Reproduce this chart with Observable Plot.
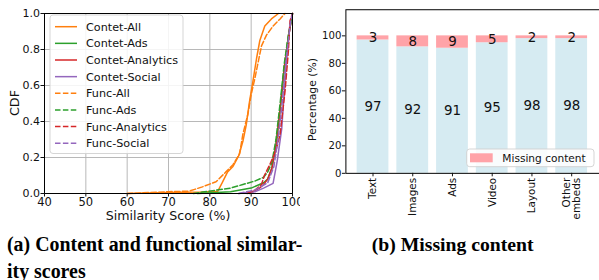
<!DOCTYPE html>
<html>
<head>
<meta charset="utf-8">
<script src="https://cdn.jsdelivr.net/npm/d3@7"></script>
<script src="https://cdn.jsdelivr.net/npm/@observablehq/plot@0.6"></script>
<style>
  html, body { margin: 0; padding: 0; background: #fff; }
  #wrap { position: relative; width: 599px; height: 280px; overflow: hidden; background: #fff; }
  #left, #right, #overlay { position: absolute; top: 0; }
  #left { left: 0; }
  #right { left: 300px; }
  #overlay { left: 0; pointer-events: none; }
  svg { display: block; }
</style>
</head>
<body>
<div id="wrap">
  <div id="left"></div>
  <div id="right"></div>
  <svg id="overlay" width="599" height="280"></svg>
</div>
<script>
// ---------- Data: (a) CDF of similarity scores ----------
const seriesNames = ["Contet-All", "Contet-Ads", "Contet-Analytics", "Contet-Social",
                     "Func-All", "Func-Ads", "Func-Analytics", "Func-Social"];
const seriesColors = ["#ff7f0e", "#2ca02c", "#d62728", "#9467bd",
                      "#ff7f0e", "#2ca02c", "#d62728", "#9467bd"];
const xTicksA = [40, 50, 60, 70, 80, 90, 100];
const yTicksA = [0, 0.2, 0.4, 0.6, 0.8, 1.0];

const contetAll = [[60,0],[70,0.006],[78,0.008],[81.9,0.012],[83,0.06],[84.3,0.12],[85.6,0.15],[87,0.21],
  [88,0.29],[88.8,0.38],[89.6,0.51],[90.4,0.62],[91.3,0.75],[92.1,0.85],[93.3,0.93],[94.9,0.97],[96.6,1.0]];
const contetAds = [[77,0],[85,0.01],[90,0.03],[93,0.06],[94,0.08],[95,0.14],[96,0.26],[97,0.46],
  [98,0.69],[99,0.87],[100,1.0]];
const contetAnalytics = [[89.5,0],[90.5,0.01],[92,0.03],[93,0.05],[94,0.08],[95,0.14],[96,0.27],
  [97,0.47],[98,0.7],[99,0.87],[100,1.0]];
const contetSocial = [[87,0],[90.9,0.01],[93,0.03],[95.3,0.056],[96.3,0.18],[97.4,0.36],[98.4,0.7],
  [99.3,0.92],[100,1.0]];
const funcAll = [[60,0],[70,0.01],[75,0.013],[78.2,0.037],[81.5,0.065],[83.9,0.12],[85.6,0.16],
  [87.2,0.22],[88,0.33],[89.2,0.44],[90,0.55],[90.9,0.64],[91.7,0.73],[92.5,0.82],[93.7,0.88],
  [95.3,0.93],[97,0.97],[98.2,1.0]];
const funcAds = [[76,0],[85,0.03],[88,0.05],[91,0.07],[93,0.09],[94,0.12],[95,0.17],[96,0.3],
  [97,0.5],[98,0.72],[99,0.88],[100,1.0]];
const funcAnalytics = [[89,0],[91,0.02],[92.5,0.05],[93.2,0.1],[94.5,0.16],[96,0.24],[97,0.33],
  [98.2,0.57],[99,0.79],[99.4,0.96],[100,1.0]];
const funcSocial = [[87,0],[91,0.02],[94,0.06],[95.5,0.15],[96.5,0.3],[97.5,0.5],[98.5,0.75],
  [99.5,0.95],[100,1.0]];
const seriesPoints = [contetAll, contetAds, contetAnalytics, contetSocial,
                      funcAll, funcAds, funcAnalytics, funcSocial];

// ---------- Data: (b) Missing content ----------
const categories = ["Text", "Images", "Ads", "Video", "Layout", "Other\nembeds"];
const present = [97, 92, 91, 95, 98, 98];
const missing = [3, 8, 9, 5, 2, 2];
const yTicksB = [0, 20, 40, 60, 80, 100];

const FONT = "DejaVu Sans, sans-serif";

// ---------- Chart (a) ----------
const lineMarks = seriesNames.map((name, i) =>
  Plot.line(seriesPoints[i], {
    x: d => d[0], y: d => d[1],
    stroke: seriesColors[i], strokeWidth: 1.5,
    strokeDasharray: name.startsWith("Func") ? "5.5,2.4" : null
  })
);

const chartA = Plot.plot({
  width: 300, height: 225,
  marginLeft: 44, marginRight: 8, marginTop: 13, marginBottom: 32,
  style: { fontFamily: FONT, fontSize: "11px", color: "#111", background: "transparent" },
  x: { domain: [40, 100] },
  y: { domain: [0, 1] },
  marks: [
    Plot.gridX(xTicksA, { stroke: "#b0b0b0", strokeOpacity: 1, strokeWidth: 0.9 }),
    Plot.gridY(yTicksA, { stroke: "#b0b0b0", strokeOpacity: 1, strokeWidth: 0.9 }),
    ...lineMarks,
    Plot.frame({ stroke: "#000", strokeWidth: 1 }),
    Plot.axisX(xTicksA, { tickSize: 3.5, tickPadding: 1, label: null, fontSize: 11.5 }),
    Plot.axisY(yTicksA, { tickSize: 3.5, tickPadding: 1, label: null, fontSize: 11,
                          tickFormat: d3.format(".1f") })
  ]
});
document.getElementById("left").appendChild(chartA);

// ---------- Chart (b) ----------
const barTable = categories.map((c, i) => ({ cat: c, present: present[i], missing: missing[i] }));

const chartB = Plot.plot({
  width: 301, height: 225,
  marginLeft: 45.7, marginRight: 0, marginTop: 9.3, marginBottom: 51,
  style: { fontFamily: FONT, fontSize: "10px", color: "#111", background: "transparent" },
  x: { type: "band", domain: categories, paddingInner: 0.2, paddingOuter: 0.286 },
  y: { domain: [0, 119] },
  marks: [
    Plot.barY(barTable, { x: "cat", y1: 0, y2: "present", fill: "#d6ebf2" }),
    Plot.barY(barTable, { x: "cat", y1: "present", y2: d => d.present + d.missing, fill: "#ffa3a8" }),
    Plot.text(barTable, { x: "cat", y: d => d.present / 2, text: d => String(d.present),
                          fontSize: 13.5, fill: "#111", lineAnchor: "middle" }),
    Plot.text(barTable, { x: "cat", y: d => d.present + d.missing / 2, text: d => String(d.missing),
                          fontSize: 13.5, fill: "#111", lineAnchor: "middle" }),
    Plot.frame({ stroke: "#000", strokeWidth: 1 }),
    Plot.axisY(yTicksB, { tickSize: 3.5, tickPadding: 1, label: null, fontSize: 10.2 }),
    Plot.axisX({ tickSize: 3.5, tickPadding: 1, label: null, fontSize: 10.5, tickRotate: -90 })
  ]
});
document.getElementById("right").appendChild(chartB);

// ---------- Overlay: labels, legends, captions ----------
const ov = d3.select("#overlay");

// Legend (a)
ov.append("rect").attr("x", 50).attr("y", 15).attr("width", 133).attr("height", 138.5)
  .attr("rx", 3).attr("fill", "rgba(255,255,255,0.85)").attr("stroke", "#d0d0d0").attr("stroke-width", 0.9);
seriesNames.forEach((name, i) => {
  const y = 26.7 + i * 16.65;
  ov.append("line").attr("x1", 55).attr("x2", 77).attr("y1", y).attr("y2", y)
    .attr("stroke", seriesColors[i]).attr("stroke-width", 1.5)
    .attr("stroke-dasharray", name.startsWith("Func") ? "5.5,2.4" : null);
  ov.append("text").attr("x", 86).attr("y", y).attr("dy", "0.36em")
    .attr("font-family", FONT).attr("font-size", 11.2).attr("fill", "#111").text(name);
});

// Legend (b)
ov.append("rect").attr("x", 466.7).attr("y", 149).attr("width", 127.3).attr("height", 17.7)
  .attr("rx", 3).attr("fill", "rgba(255,255,255,0.85)").attr("stroke", "#d0d0d0").attr("stroke-width", 0.9);
ov.append("rect").attr("x", 470).attr("y", 153.3).attr("width", 22.7).attr("height", 9).attr("fill", "#ffa3a8");
ov.append("text").attr("x", 502.3).attr("y", 157.8).attr("dy", "0.36em")
  .attr("font-family", FONT).attr("font-size", 10.6).attr("fill", "#111").text("Missing content");

// Axis labels
ov.append("text").attr("transform", "translate(14.5,103) rotate(-90)").attr("text-anchor", "middle")
  .attr("dy", "0.36em").attr("font-family", FONT).attr("font-size", 12.8).attr("fill", "#111").text("CDF");
ov.append("text").attr("x", 168).attr("y", 219.8).attr("text-anchor", "middle")
  .attr("font-family", FONT).attr("font-size", 12.6).attr("fill", "#111").text("Similarity Score (%)");
ov.append("text").attr("transform", "translate(311.7,99.5) rotate(-90)").attr("text-anchor", "middle")
  .attr("dy", "0.36em").attr("font-family", FONT).attr("font-size", 10.8).attr("fill", "#111").text("Percentage (%)");

// Captions
const CAP = "Liberation Serif, Times New Roman, serif";
ov.append("text").attr("x", 7).attr("y", 250.6).attr("font-family", CAP).attr("font-weight", "bold")
  .attr("font-size", 19.9).attr("fill", "#000").text("(a) Content and functional similar-");
ov.append("text").attr("x", 7).attr("y", 277.8).attr("font-family", CAP).attr("font-weight", "bold")
  .attr("font-size", 19.9).attr("fill", "#000").text("ity scores");
ov.append("text").attr("x", 371.7).attr("y", 251).attr("font-family", CAP).attr("font-weight", "bold")
  .attr("font-size", 19.7).attr("fill", "#000").text("(b) Missing content");
</script>
</body>
</html>
